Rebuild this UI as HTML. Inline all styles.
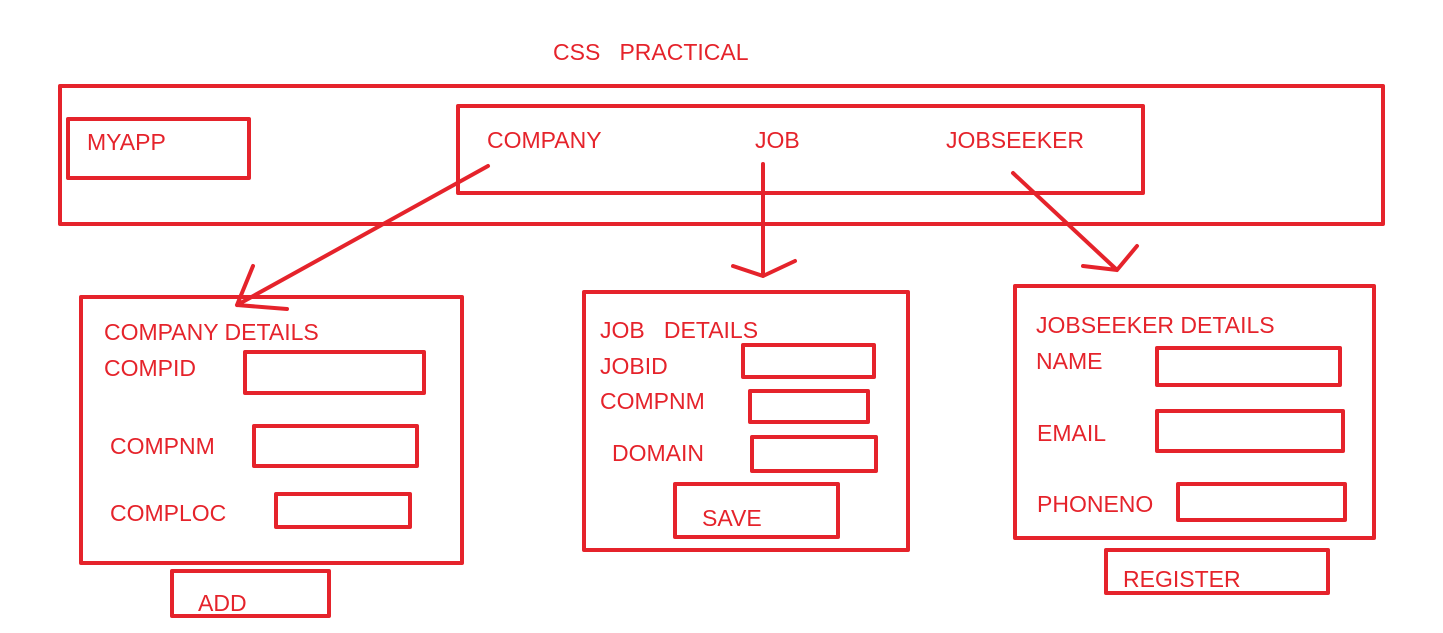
<!DOCTYPE html>
<html><head><meta charset="utf-8"><style>
html,body{margin:0;padding:0;background:#fff;width:1443px;height:633px;overflow:hidden}
svg text{font-family:"Liberation Sans",sans-serif;font-size:23px;fill:#e5232b}
</style></head><body>
<svg width="1443" height="633" viewBox="0 0 1443 633" xmlns="http://www.w3.org/2000/svg">
<g fill="none" stroke="#e5232b" stroke-width="4" stroke-linecap="round" stroke-linejoin="round">
<rect x="60" y="86" width="1323" height="138"/>
<rect x="68" y="119" width="181" height="59"/>
<rect x="458" y="106" width="685" height="87"/>
<path d="M488 166 L237 305 M253 266 L237 305 L287 309"/>
<path d="M763 164 L763 276 M733 266 L763 276 L795 261"/>
<path d="M1013 173 L1117 270 M1083 266 L1117 270 L1137 246"/>
<rect x="81" y="297" width="381" height="266"/>
<rect x="245" y="352" width="179" height="41"/>
<rect x="254" y="426" width="163" height="40"/>
<rect x="276" y="494" width="134" height="33"/>
<rect x="172" y="571" width="157" height="45"/>
<rect x="584" y="292" width="324" height="258"/>
<rect x="743" y="345" width="131" height="32"/>
<rect x="750" y="391" width="118" height="31"/>
<rect x="752" y="437" width="124" height="34"/>
<rect x="675" y="484" width="163" height="53"/>
<rect x="1015" y="286" width="359" height="252"/>
<rect x="1157" y="348" width="183" height="37"/>
<rect x="1157" y="411" width="186" height="40"/>
<rect x="1178" y="484" width="167" height="36"/>
<rect x="1106" y="550" width="222" height="43"/>
</g>
<text x="553" y="60">CSS&#160;&#160;&#160;PRACTICAL</text>
<text x="87" y="150">MYAPP</text>
<text x="487" y="148">COMPANY</text>
<text x="755" y="148">JOB</text>
<text x="946" y="148">JOBSEEKER</text>
<text x="104" y="340">COMPANY DETAILS</text>
<text x="104" y="376">COMPID</text>
<text x="110" y="454">COMPNM</text>
<text x="110" y="521">COMPLOC</text>
<text x="198" y="611">ADD</text>
<text x="600" y="338">JOB&#160;&#160;&#160;DETAILS</text>
<text x="600" y="374">JOBID</text>
<text x="600" y="409">COMPNM</text>
<text x="612" y="461">DOMAIN</text>
<text x="702" y="526">SAVE</text>
<text x="1036" y="333">JOBSEEKER DETAILS</text>
<text x="1036" y="369">NAME</text>
<text x="1037" y="441">EMAIL</text>
<text x="1037" y="512">PHONENO</text>
<text x="1123" y="587">REGISTER</text>
</svg>
</body></html>
